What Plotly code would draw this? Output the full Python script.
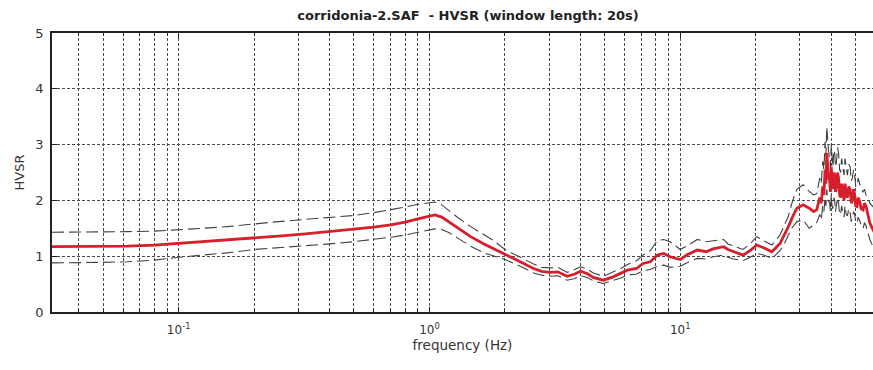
import numpy as np
import plotly.graph_objects as go

# HVSR curve: frequency (Hz), mean ratio and mean +/- one standard deviation
freq = [0.03125, 0.04, 0.05, 0.0625, 0.08, 0.1, 0.125, 0.156, 0.2, 0.25, 0.32, 0.4,
        0.5, 0.6, 0.7, 0.8, 0.9, 1.0, 1.05, 1.12, 1.2, 1.3, 1.46, 1.65, 1.8, 2.0,
        2.3, 2.6, 2.8, 3.03, 3.25, 3.54, 3.8, 4.0, 4.25, 4.5, 4.94, 5.4, 5.8, 6.15,
        6.7, 7.1, 7.6, 8.1, 8.6, 9.1, 10.0, 10.6, 11.7, 12.7, 13.5, 14.9, 15.5, 16.3,
        17.8, 19.0, 20.2, 21.5, 23.2, 25.0, 26.0, 27.0, 28.0, 29.2, 30.9, 32.7, 34.0,
        35.0, 36.0, 36.5, 37.0, 37.4, 37.8, 38.1, 38.4, 38.7, 39.0, 39.4, 39.7, 40.0,
        40.3, 40.6, 41.0, 41.3, 41.6, 42.0, 42.4, 42.8, 43.2, 43.6, 44.0, 44.5, 45.0,
        45.4, 45.9, 46.4, 47.0, 47.6, 48.1, 48.6, 49.1, 49.6, 50.1, 50.7, 51.2, 51.8,
        52.7, 53.6, 54.3, 55.0, 56.0, 57.0, 58.7, 60.0]

hvsr_mean = [1.17, 1.17, 1.17, 1.18, 1.20, 1.23, 1.26, 1.29, 1.33, 1.36, 1.40, 1.44,
             1.48, 1.52, 1.56, 1.61, 1.67, 1.72, 1.74, 1.70, 1.61, 1.50, 1.35, 1.22, 1.14, 1.03,
             0.90, 0.78, 0.73, 0.71, 0.72, 0.64, 0.68, 0.73, 0.69, 0.62, 0.57, 0.63, 0.69, 0.75,
             0.78, 0.87, 0.90, 1.02, 1.05, 0.99, 0.94, 1.02, 1.11, 1.08, 1.13, 1.17, 1.12, 1.08,
             1.02, 1.10, 1.20, 1.15, 1.08, 1.23, 1.38, 1.53, 1.70, 1.86, 1.92, 1.86, 1.80,
             1.83, 2.05, 1.95, 2.25, 2.10, 2.55, 2.30, 2.85, 2.45, 2.40, 2.37, 2.15, 2.60,
             2.30, 2.20, 2.50, 2.45, 2.15, 2.25, 2.50, 2.40, 2.10, 2.05, 2.30, 2.13, 2.00,
             2.30, 2.10, 2.05, 2.25, 2.19, 1.95, 2.00, 2.20, 2.10, 1.90, 1.89, 2.05, 2.00,
             1.85, 1.83, 1.95, 1.90, 1.75, 1.60, 1.47, 1.40]

hvsr_upper = [1.43, 1.43, 1.43, 1.44, 1.45, 1.47, 1.50, 1.53, 1.58, 1.62, 1.66, 1.69,
              1.73, 1.78, 1.83, 1.88, 1.93, 1.96, 1.97, 1.92, 1.81, 1.69, 1.53, 1.38, 1.28, 1.12,
              0.98, 0.86, 0.80, 0.79, 0.80, 0.71, 0.76, 0.81, 0.77, 0.70, 0.64, 0.72, 0.78, 0.85,
              0.92, 1.02, 1.10, 1.28, 1.30, 1.26, 1.12, 1.18, 1.30, 1.26, 1.28, 1.30, 1.22, 1.18,
              1.12, 1.22, 1.35, 1.28, 1.20, 1.38, 1.55, 1.72, 1.98, 2.20, 2.28, 2.16, 2.10,
              2.12, 2.40, 2.30, 2.70, 2.55, 3.05, 2.80, 3.32, 2.95, 2.90, 2.75, 2.60, 3.00,
              2.75, 2.60, 2.90, 2.85, 2.60, 2.70, 2.95, 2.85, 2.55, 2.50, 2.75, 2.55, 2.45,
              2.75, 2.55, 2.45, 2.65, 2.60, 2.35, 2.40, 2.55, 2.45, 2.25, 2.25, 2.40, 2.30,
              2.20, 2.15, 2.20, 2.10, 2.05, 1.95, 1.89, 1.80]

hvsr_lower = [0.88, 0.88, 0.89, 0.90, 0.93, 0.98, 1.02, 1.06, 1.12, 1.15, 1.19, 1.22,
              1.26, 1.30, 1.34, 1.38, 1.43, 1.47, 1.49, 1.48, 1.42, 1.32, 1.18, 1.06, 1.00, 0.94,
              0.82, 0.70, 0.66, 0.64, 0.65, 0.57, 0.60, 0.65, 0.62, 0.56, 0.51, 0.56, 0.61, 0.66,
              0.68, 0.74, 0.76, 0.82, 0.84, 0.80, 0.82, 0.88, 0.96, 0.95, 0.99, 1.02, 0.98, 0.95,
              0.92, 0.98, 1.05, 1.02, 0.96, 1.10, 1.22, 1.38, 1.52, 1.62, 1.65, 1.50, 1.55,
              1.60, 1.75, 1.65, 1.90, 1.80, 2.05, 1.90, 2.20, 2.00, 2.00, 1.95, 1.80, 2.10,
              1.90, 1.85, 2.05, 2.00, 1.80, 1.90, 2.05, 1.95, 1.75, 1.75, 1.90, 1.80, 1.70,
              1.90, 1.75, 1.72, 1.85, 1.77, 1.62, 1.68, 1.80, 1.75, 1.60, 1.60, 1.70, 1.65,
              1.55, 1.50, 1.60, 1.55, 1.42, 1.30, 1.17, 1.10]

# Axis ticks
x_major = [0.1, 1, 10]
x_major_text = ["10<sup>-1</sup>", "10<sup>0</sup>", "10<sup>1</sup>"]
x_minor = [0.04, 0.05, 0.06, 0.07, 0.08, 0.09,
           0.2, 0.3, 0.4, 0.5, 0.6, 0.7, 0.8, 0.9,
           2, 3, 4, 5, 6, 7, 8, 9,
           20, 30, 40, 50]
y_ticks = [0, 1, 2, 3, 4, 5]

x_min, x_max = 1 / 32, 58.7

fig = go.Figure()

band_dash = "12px,5px"
band_color = "#404040"

fig.add_trace(go.Scatter(x=freq, y=hvsr_upper, mode="lines",
                         line=dict(color=band_color, width=1.1, dash=band_dash),
                         hoverinfo="skip", showlegend=False))
fig.add_trace(go.Scatter(x=freq, y=hvsr_lower, mode="lines",
                         line=dict(color=band_color, width=1.1, dash=band_dash),
                         hoverinfo="skip", showlegend=False))
fig.add_trace(go.Scatter(x=freq, y=hvsr_mean, mode="lines",
                         line=dict(color="#d81e2a", width=2.8),
                         showlegend=False))

grid_kw = dict(showgrid=True, gridcolor="#4a4a4a", gridwidth=1.4, griddash="3px,2px")
label_font = "DejaVu Sans, Verdana, sans-serif"

fig.update_layout(
    width=873, height=370,
    margin=dict(l=52, r=0, t=33, b=58),
    paper_bgcolor="white", plot_bgcolor="white",
    font=dict(family=label_font, color="#333333", size=12),
    title=dict(text="<b>corridonia-2.SAF  - HVSR (window length: 20s)</b>",
               x=468 / 873, xanchor="center", y=1 - 15 / 370, yanchor="middle",
               font=dict(family=label_font, size=13, color="#222222")),
    xaxis=dict(
        type="log", range=[np.log10(x_min), np.log10(x_max)],
        tickmode="array", tickvals=x_major, ticktext=x_major_text,
        ticks="inside", ticklen=5, tickcolor="#222222", tickwidth=1,
        showline=True, linecolor="#222222", linewidth=1.5, mirror="ticks",
        zeroline=False, ticklabelstandoff=6,
        tickfont=dict(size=12, color="#333333"),
        title=dict(text="frequency (Hz)", standoff=4, font=dict(size=13.5, color="#333333")),
        minor=dict(tickmode="array", tickvals=x_minor, ticks="inside", ticklen=3,
                   tickcolor="#222222", **grid_kw),
        **grid_kw,
    ),
    yaxis=dict(
        range=[0, 5], tickmode="array", tickvals=y_ticks,
        ticks="inside", ticklen=5, tickcolor="#222222",
        showline=True, linecolor="#222222", linewidth=1.5, mirror=False,
        zeroline=False, ticklabelstandoff=4,
        tickfont=dict(size=13, color="#333333"),
        title=dict(text="HVSR", standoff=8, font=dict(size=13, color="#333333")),
        **grid_kw,
    ),
)

fig.write_html("out.html")
